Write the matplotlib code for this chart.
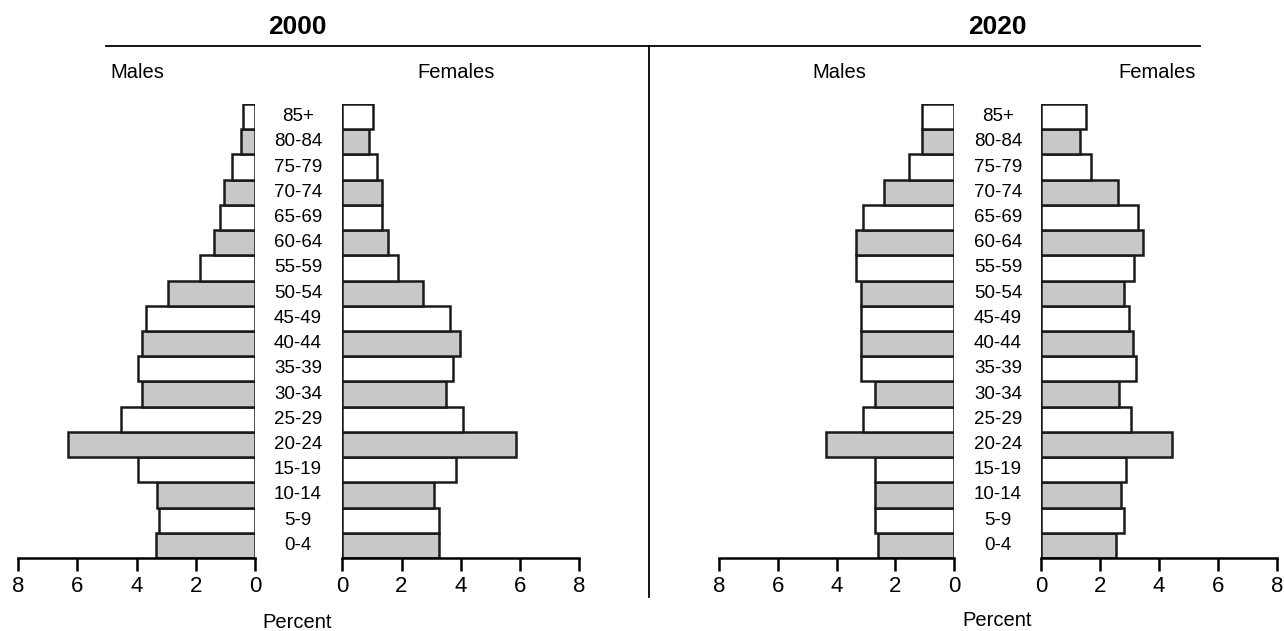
import numpy as np
import matplotlib.pyplot as plt
from matplotlib.transforms import blended_transform_factory

plt.rcParams['font.family'] = ['Liberation Sans', 'DejaVu Sans']

ages = ['0-4', '5-9', '10-14', '15-19', '20-24', '25-29', '30-34', '35-39', '40-44',
        '45-49', '50-54', '55-59', '60-64', '65-69', '70-74', '75-79', '80-84', '85+']

# percent of population, from 0-4 up to 85+
males_2000 = [3.35, 3.23, 3.30, 3.94, 6.31, 4.53, 3.83, 3.94, 3.83,
              3.69, 2.93, 1.86, 1.39, 1.18, 1.05, 0.79, 0.48, 0.42]
females_2000 = [3.25, 3.25, 3.10, 3.84, 5.88, 4.06, 3.50, 3.73, 3.96,
                3.64, 2.73, 1.88, 1.55, 1.33, 1.33, 1.17, 0.90, 1.03]
males_2020 = [2.59, 2.70, 2.70, 2.70, 4.37, 3.10, 2.70, 3.17, 3.17,
              3.17, 3.17, 3.34, 3.34, 3.10, 2.40, 1.53, 1.11, 1.11]
females_2020 = [2.55, 2.81, 2.71, 2.88, 4.43, 3.04, 2.65, 3.21, 3.13,
                2.99, 2.82, 3.14, 3.47, 3.30, 2.62, 1.70, 1.33, 1.51]

W, H = 1284, 631
fig = plt.figure(figsize=(W / 100, H / 100), dpi=100)

y = np.arange(len(ages))
colors = ['#c8c8c8' if i % 2 == 0 else 'white' for i in range(len(ages))]

bot = (H - 558) / H
hgt = 454 / H


def panel(x0, x1, vals, flip):
    ax = fig.add_axes([x0 / W, bot, (x1 - x0) / W, hgt])
    ax.barh(y, vals, height=1.0, color=colors, edgecolor='#1a1a1a', linewidth=1.8)
    ax.set_ylim(-0.5, len(ages) - 0.5)
    if flip:
        ax.set_xlim(8, 0)
    else:
        ax.set_xlim(0, 8)
    ax.set_xticks([0, 2, 4, 6, 8])
    ax.set_yticks([])
    for s in ['top', 'left', 'right']:
        ax.spines[s].set_visible(False)
    ax.spines['bottom'].set_linewidth(1.8)
    ax.tick_params(axis='x', direction='out', length=9, width=1.8,
                   labelsize=16, pad=4)
    return ax


axm1 = panel(18, 255, males_2000, True)
axf1 = panel(342.3, 579.3, females_2000, False)
axm2 = panel(719, 954.3, males_2020, True)
axf2 = panel(1041.3, 1276.7, females_2020, False)

for ax, xc in [(axm1, 298), (axm2, 998)]:
    tr = blended_transform_factory(fig.transFigure, ax.transData)
    for i, a in enumerate(ages):
        ax.text(xc / W, i, a, transform=tr, ha='center', va='center', fontsize=13.5)

def ftext(x, yy, s, **kw):
    fig.text(x / W, 1 - yy / H, s, ha='center', va='center', **kw)

ftext(297, 27, '2000', fontsize=19, fontweight='bold')
ftext(997, 27, '2020', fontsize=19, fontweight='bold')
ftext(137, 73, 'Males', fontsize=14.5)
ftext(456, 73, 'Females', fontsize=14.5)
ftext(839, 73, 'Males', fontsize=14.5)
ftext(1157, 73, 'Females', fontsize=14.5)
ftext(297, 622, 'Percent', fontsize=14.5)
ftext(997, 620, 'Percent', fontsize=14.5)

fig.add_artist(plt.Line2D([106 / W, 1200 / W], [1 - 46 / H, 1 - 46 / H],
                          color='black', linewidth=1.3))
fig.add_artist(plt.Line2D([649 / W, 649 / W], [1 - 46 / H, 1 - 597 / H],
                          color='black', linewidth=1.3))

fig.savefig('out.png', dpi=100)
